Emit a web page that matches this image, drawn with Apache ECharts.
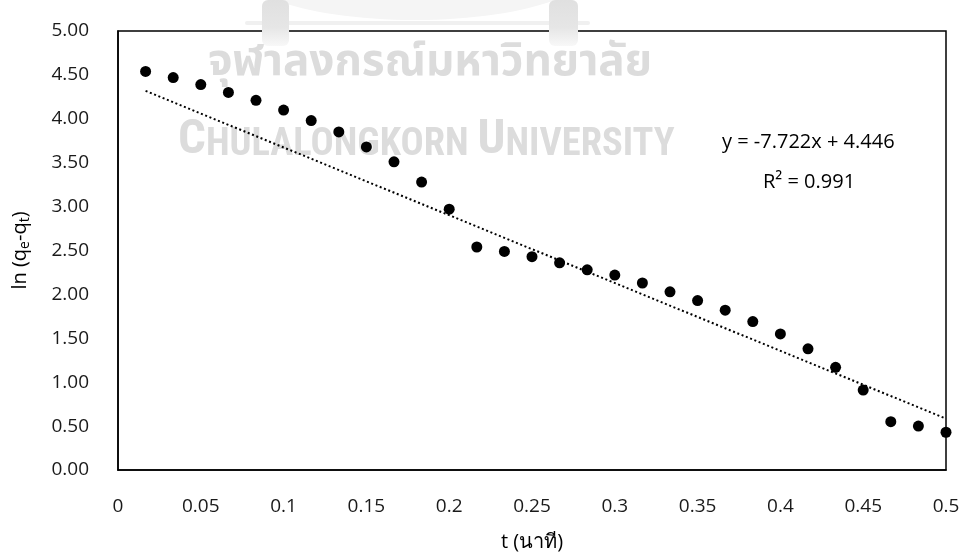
<!DOCTYPE html>
<html>
<head>
<meta charset="utf-8">
<style>
  html, body { margin: 0; padding: 0; background: #ffffff; }
  #chart { width: 962px; height: 553px; }
</style>
<script src="https://cdn.jsdelivr.net/npm/echarts@6/dist/echarts.min.js"></script>
</head>
<body>
<div id="chart"></div>
<script>
// Sampling times (minutes): one reading every second for 30 s
const times = [
  1/60, 2/60, 3/60, 4/60, 5/60, 6/60, 7/60, 8/60, 9/60, 10/60,
  11/60, 12/60, 13/60, 14/60, 15/60, 16/60, 17/60, 18/60, 19/60, 20/60,
  21/60, 22/60, 23/60, 24/60, 25/60, 26/60, 27/60, 28/60, 29/60, 30/60
];
// ln(qe - qt) at each sampling time
const lnValues = [
  4.54, 4.47, 4.39, 4.30, 4.21, 4.10, 3.98, 3.85, 3.68, 3.51,
  3.28, 2.97, 2.54, 2.49, 2.43, 2.36, 2.28, 2.22, 2.13, 2.03,
  1.93, 1.82, 1.69, 1.55, 1.38, 1.17, 0.91, 0.55, 0.50, 0.43
];
// Linear fit reported on the chart
const fitSlope = -7.722;
const fitIntercept = 4.446;
const fitR2 = 0.991;
const fitRange = [1/60, 30/60];

const xTicks = { min: 0, max: 0.5, interval: 0.05 };
const yTicks = { min: 0, max: 5, interval: 0.5 };

const points = times.map((t, i) => [t, lnValues[i]]);
const fitLine = fitRange.map(t => [t, fitSlope * t + fitIntercept]);

const labelFont = '"Open Sans", "Noto Sans", sans-serif';
const wmColor = '#dcdcdc';
const wmFont = '"Liberation Sans Narrow", "Roboto Condensed", sans-serif';

const chart = echarts.init(document.getElementById('chart'));
chart.setOption({
  backgroundColor: '#ffffff',
  animation: false,
  grid: {
    left: 118, right: 16, top: 31, bottom: 83,
    containLabel: false,
    outerBoundsMode: 'none',
    show: true, borderColor: '#000000', borderWidth: 1.5,
    backgroundColor: 'transparent'
  },
  graphic: [
    // faint university emblem
    { type: 'ellipse', z: 0, silent: true,
      shape: { cx: 415, cy: -30, rx: 175, ry: 50 },
      style: { fill: '#f5f5f5' } },
    { type: 'rect', z: 0, silent: true,
      shape: { x: 245, y: 21, width: 345, height: 4, r: 2 },
      style: { fill: '#f0f0f0' } },
    { type: 'rect', z: 0, silent: true,
      shape: { x: 262, y: 0, width: 27, height: 46, r: 6 },
      style: { fill: new echarts.graphic.LinearGradient(0, 0, 0, 1, [
        { offset: 0, color: '#e0e0e0' }, { offset: 0.6, color: '#e6e6e6' }, { offset: 1, color: '#f8f8f8' }]) } },
    { type: 'rect', z: 0, silent: true,
      shape: { x: 549, y: 0, width: 29, height: 46, r: 6 },
      style: { fill: new echarts.graphic.LinearGradient(0, 0, 0, 1, [
        { offset: 0, color: '#e0e0e0' }, { offset: 0.6, color: '#e6e6e6' }, { offset: 1, color: '#f8f8f8' }]) } },
    // watermark text
    { type: 'text', z: 0, silent: true, left: 208, top: 44,
      style: { text: 'จุฬาลงกรณ์มหาวิทยาลัย', fill: wmColor,
        font: 'bold 44px "Noto Sans Thai", "Noto Sans", sans-serif' } },
    { type: 'text', z: 0, silent: true, left: 178, top: 116,
      style: {
        text: '{b|C}{s|HULALONGKORN }{b|U}{s|NIVERSITY}',
        fill: wmColor,
        rich: {
          b: { fontSize: 49, fontWeight: 'bold', fill: wmColor, fontFamily: wmFont, verticalAlign: 'bottom' },
          s: { fontSize: 38.5, fontWeight: 'bold', fill: wmColor, fontFamily: wmFont, verticalAlign: 'bottom' }
        }
      } },
    // trend line equation
    { type: 'text', z: 5, silent: true, x: 722, y: 142,
      style: { text: 'y = -' + Math.abs(fitSlope).toFixed(3) + 'x + ' + fitIntercept.toFixed(3),
        fill: '#000000', font: '20px ' + labelFont, verticalAlign: 'middle', align: 'left' } },
    { type: 'text', z: 5, silent: true, x: 763, y: 182,
      style: { text: 'R² = ' + fitR2.toFixed(3),
        fill: '#000000', font: '20px ' + labelFont, verticalAlign: 'middle', align: 'left' } }
  ],
  xAxis: {
    type: 'value',
    min: xTicks.min, max: xTicks.max, interval: xTicks.interval,
    name: 't (นาที)',
    nameLocation: 'middle',
    nameGap: 62,
    nameTextStyle: { color: '#000000', fontSize: 20, fontFamily: labelFont },
    axisLine: { show: true, lineStyle: { color: '#000000', width: 1.5 } },
    axisTick: { show: false },
    splitLine: { show: false },
    axisLabel: { color: '#1a1a1a', fontSize: 19, fontFamily: labelFont, margin: 27 }
  },
  yAxis: {
    type: 'value',
    min: yTicks.min, max: yTicks.max, interval: yTicks.interval,
    name: 'ln (q{s|e}-q{s|t})',
    nameLocation: 'middle',
    nameGap: 86,
    nameRotate: 90,
    nameTextStyle: {
      color: '#000000', fontSize: 20, fontFamily: labelFont,
      rich: {
        s: { fontSize: 14, fontFamily: labelFont, color: '#000000',
             verticalAlign: 'bottom', padding: [9, 0, 0, 0] }
      }
    },
    axisLine: { show: true, lineStyle: { color: '#000000', width: 1.5 } },
    axisTick: { show: false },
    splitLine: { show: false },
    axisLabel: {
      color: '#1a1a1a', fontSize: 19, fontFamily: labelFont, margin: 29,
      formatter: v => v.toFixed(2)
    }
  },
  series: [
    {
      type: 'line',
      data: fitLine,
      showSymbol: false,
      z: 3,
      lineStyle: { color: '#000000', width: 2, type: [2, 2.6] },
      silent: true
    },
    {
      type: 'scatter',
      data: points,
      symbol: 'circle',
      symbolSize: 11,
      z: 4,
      itemStyle: { color: '#000000', opacity: 1 }
    }
  ]
});
</script>
</body>
</html>
